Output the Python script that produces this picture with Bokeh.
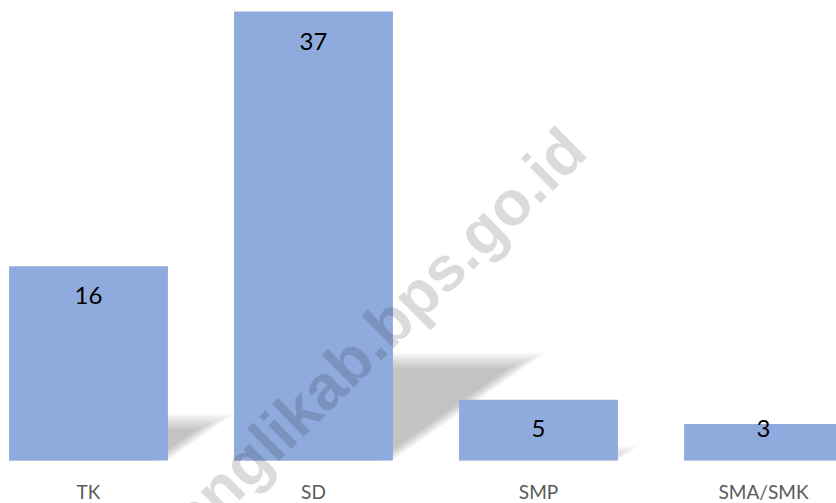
import math
from bokeh.plotting import figure
from bokeh.models import Range1d, ColumnDataSource, Label
from bokeh.core.properties import value
from bokeh.embed import file_html
from bokeh.resources import INLINE

# ---- data ----
categories = ["TK", "SD", "SMP", "SMA/SMK"]
counts = [16, 37, 5, 3]
watermark_text = "banglikab.bps.go.id"

# ---- layout constants (pixels) ----
W, H = 836, 503
PX_PER_CAT = 225.0            # horizontal pixels per category
FIRST_CENTER_PX = 88.0
BASELINE_PX = 460.0
X_START = -FIRST_CENTER_PX / PX_PER_CAT
X_END = X_START + W / PX_PER_CAT
BAR_W = 0.706
PPU_Y = 449.0 / 37.0          # vertical pixels per unit
Y_END = 37 + 11.0 / PPU_Y
Y_START = -(H - BASELINE_PX) / PPU_Y
BASE_FIX = 0.33               # renderer draws alphabetic baseline ~0.33em low

BAR_COLOR = "#8faadc"

p = figure(width=W, height=H, output_backend="svg", toolbar_location=None,
           x_range=Range1d(X_START, X_END), y_range=Range1d(Y_START, Y_END),
           x_axis_location=None, y_axis_location=None,
           min_border_left=0, min_border_right=0,
           min_border_top=0, min_border_bottom=0)
p.outline_line_color = None
p.grid.visible = False
p.background_fill_color = "white"
p.border_fill_color = "white"

xs_idx = list(range(len(categories)))

# ---- soft shadows (stacked translucent layers) ----
sh_xs, sh_ys = [], []
for i, v in zip(xs_idx, counts):
    h_px = v * PPU_Y
    dx_px = 0.34 * h_px
    dy_px = 0.24 * h_px
    x0 = i - BAR_W / 2
    x1 = i + BAR_W / 2
    for k in range(8):
        e = k * 2.2
        if e >= dy_px * 0.8:
            continue
        t = (dy_px - e) / dy_px
        top_y = (dy_px - e) / PPU_Y
        sh_xs.append([x0, x1 - e / PX_PER_CAT,
                      x1 - e / PX_PER_CAT + dx_px * t / PX_PER_CAT,
                      x0 + dx_px * t / PX_PER_CAT])
        sh_ys.append([0, 0, top_y, top_y])
p.patches(sh_xs, sh_ys, fill_color="black", fill_alpha=0.033, line_color=None)

# ---- bars ----
src = ColumnDataSource(dict(x=xs_idx, top=counts, cat=categories))
p.vbar(x="x", top="top", bottom=0, width=BAR_W, source=src,
       fill_color=BAR_COLOR, line_color=None)

# ---- value labels ----
VAL_FS = 24
lab_y = []
for v in counts:
    h_px = v * PPU_Y
    c = min(29.0, h_px / 2, h_px - 33.0)
    lab_y.append(v - (c + 8.5 - BASE_FIX * VAL_FS) / PPU_Y)
lsrc = ColumnDataSource(dict(x=xs_idx, y=lab_y, t=[str(v) for v in counts]))
p.text(x="x", y="y", text="t", source=lsrc, text_align="center",
       text_baseline="alphabetic", text_font=value("Lato"),
       text_font_size=f"{VAL_FS}px", text_color="black")

# ---- category labels ----
CAT_FS = 19
cat_y = -(497.0 - BASE_FIX * CAT_FS - BASELINE_PX) / PPU_Y
csrc = ColumnDataSource(dict(x=xs_idx, y=[cat_y] * len(categories), t=categories))
p.text(x="x", y="y", text="t", source=csrc, text_align="center",
       text_baseline="alphabetic", text_font=value("Lato"),
       text_font_size=f"{CAT_FS}px", text_color="#595959")

# ---- watermark ----
WM_FS = 63
WM_ANG = math.radians(44.6)
shift = BASE_FIX * WM_FS
wm_cx = 378.0 - shift * math.sin(WM_ANG)   # pixel position of text centre on baseline
wm_cy = 361.0 - shift * math.cos(WM_ANG)
wm = Label(x=X_START + wm_cx / PX_PER_CAT, y=(BASELINE_PX - wm_cy) / PPU_Y,
           text=watermark_text, angle=WM_ANG, text_align="center",
           text_baseline="alphabetic", text_font="Liberation Sans",
           text_font_style="bold", text_font_size=f"{WM_FS}px",
           text_color="black", text_alpha=0.14)
p.add_layout(wm)

open("out.html", "w").write(file_html(p, INLINE))
